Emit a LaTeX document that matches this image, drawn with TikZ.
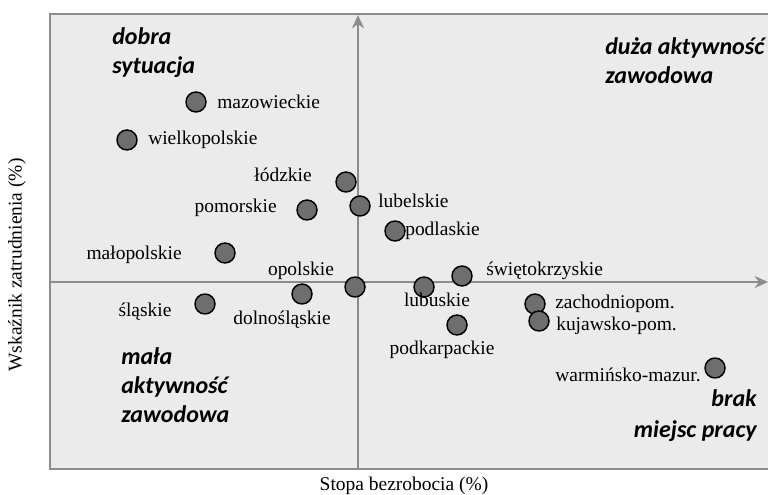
\documentclass[tikz,border=0pt]{standalone}
\usepackage{fontspec}
\setmainfont{Liberation Serif}
\newfontfamily\quadfont{Carlito}[BoldItalicFont={Carlito Bold Italic}]
\usetikzlibrary{arrows.meta}
\definecolor{panel}{HTML}{EBEBEB}
\definecolor{frame}{HTML}{8C8C8C}
\definecolor{dotfill}{HTML}{6E6E6E}
\tikzset{
  region/.style={circle,draw=black,line width=1.1pt,fill=dotfill,minimum size=15pt,inner sep=0pt},
  wname/.style={inner sep=0pt,font=\fontsize{14.6}{16}\selectfont},
  quadrant/.style={inner sep=0pt,align=left,font=\quadfont\bfseries\itshape\fontsize{18}{22}\selectfont},
  axisline/.style={draw=frame,line width=1.6pt}
}
\begin{document}
\begin{tikzpicture}[x=0.75pt,y=-0.75pt]
  \useasboundingbox (0,0) rectangle (768,495);
  \fill[panel] (50,14) rectangle (772,469);
  \draw[axisline] (772,14) -- (50,14) -- (50,469) -- (772,469);
  % axes
  \draw[axisline,-{Stealth[length=10pt,width=9pt]}] (358,469) -- (358,15);
  \draw[axisline,-{Stealth[length=10pt,width=9pt]}] (50,282) -- (768,282);

  % quadrant names
  \node[quadrant,anchor=north west] (dobra) at (112,27) {dobra\\sytuacja};
  \node[quadrant,anchor=north west] (duza) at (605,37) {duża aktywność\\zawodowa};
  \node[quadrant,anchor=north west] (mala) at (121,347) {mała\\aktywność\\zawodowa};
  \node[quadrant,anchor=north east,align=right] (brak) at (757,389) {brak\\[1.5pt]miejsc pracy};

  % regions
  \node[region] (maz) at (196,102) {};
  \node[region] (wlkp) at (127,140) {};
  \node[region] (lodz) at (346,182) {};
  \node[region] (pom) at (307,210) {};
  \node[region] (lub) at (360,206) {};
  \node[region] (podl) at (395,231) {};
  \node[region] (malp) at (225,253) {};
  \node[region] (opol) at (355,287) {};
  \node[region] (slask) at (205,304) {};
  \node[region] (dols) at (302,294) {};
  \node[region] (swie) at (462,276) {};
  \node[region] (lubu) at (424,287) {};
  \node[region] (zach) at (535,304) {};
  \node[region] (kuj) at (539,321) {};
  \node[region] (podk) at (457,325) {};
  \node[region] (warm) at (715,368) {};

  \node[wname,anchor=west] (mazL) at (217,102) {mazowieckie};
  \node[wname,anchor=west] (wlkpL) at (148,140) {wielkopolskie};
  \node[wname,anchor=east] (lodzL) at (312,175) {łódzkie};
  \node[wname,anchor=east] (pomL) at (277,208) {pomorskie};
  \node[wname,anchor=west] (lubL) at (378,201) {lubelskie};
  \node[wname,anchor=west] (podlL) at (405,231) {podlaskie};
  \node[wname,anchor=east] (malpL) at (182,255) {małopolskie};
  \node[wname] (opolL) at (301,271) {opolskie};
  \node[wname] (slaskL) at (145,312) {śląskie};
  \node[wname] (dolsL) at (282,320) {dolnośląskie};
  \node[wname,anchor=west] (swieL) at (486,271) {świętokrzyskie};
  \node[wname] (lubuL) at (437,300) {lubuskie};
  \node[wname,anchor=west] (zachL) at (555,304) {zachodniopom.};
  \node[wname,anchor=west] (kujL) at (556,326) {kujawsko-pom.};
  \node[wname] (podkL) at (442,350) {podkarpackie};
  \node[wname,anchor=east] (warmL) at (701,375) {warmińsko-mazur.};

  % axis titles
  \node[wname] (xlab) at (404,486) {Stopa bezrobocia (\%)};
  \node[wname,rotate=90] (ylab) at (17,265) {Wskaźnik zatrudnienia (\%)};
\end{tikzpicture}
\end{document}
